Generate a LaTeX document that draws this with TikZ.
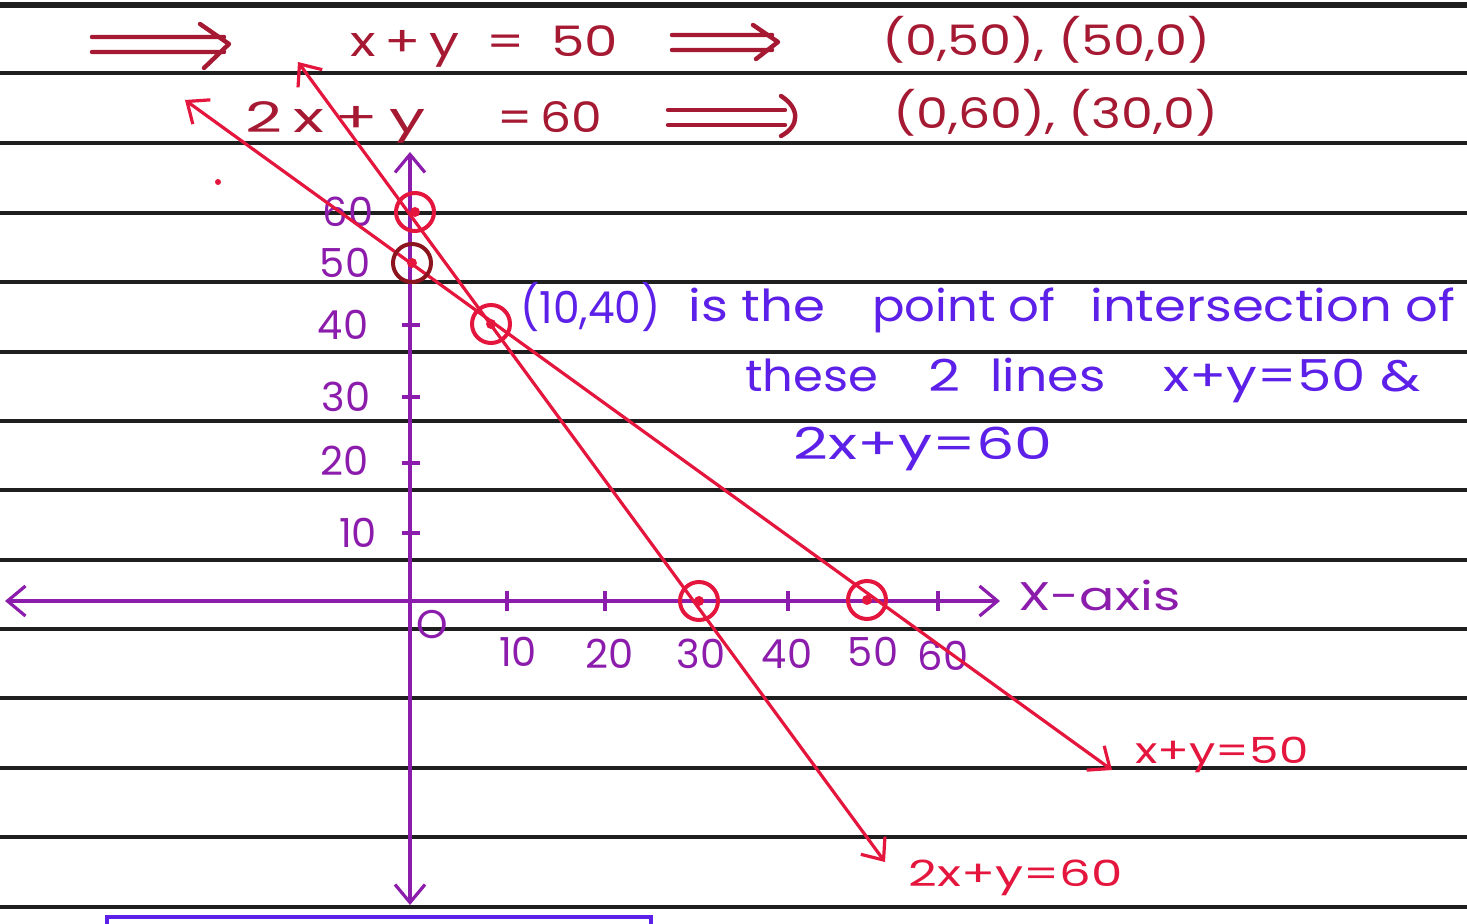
\documentclass[tikz,border=0pt]{standalone}
\usepackage{fontspec}
\usepackage{graphicx}
\setmainfont{Poppins}
\usetikzlibrary{arrows.meta}
\definecolor{inkred}{RGB}{165,25,50}
\definecolor{linered}{RGB}{228,22,62}
\definecolor{axispurple}{RGB}{140,28,172}
\definecolor{inkblue}{RGB}{92,32,232}
\definecolor{darkcirc}{RGB}{140,20,30}
\newcommand\fitw[2]{\resizebox{#1pt}{\height}{#2}}
\begin{document}
\begin{tikzpicture}[x=0.5pt,y=-0.5pt,
  rule/.style={line width=2pt,black!88},
  hand/.style={font=\fontsize{21}{24}\selectfont,inner sep=0pt,anchor=base west},
  redtext/.style={hand,text=inkred},
  bluetext/.style={hand,text=inkblue,font=\fontsize{22}{24}\selectfont},
  purpletext/.style={font=\fontsize{20}{24}\selectfont,inner sep=0pt,text=axispurple},
  labtext/.style={hand,text=linered,font=\fontsize{18}{22}\selectfont},
  axis/.style={line width=1.6pt,axispurple},
  tick/.style={line width=1.6pt,axispurple},
  graphline/.style={line width=1.6pt,linered},
  barb/.tip={Straight Barb[length=9pt,width=15pt,line width=1.6pt]},
  ptmark/.style={circle,draw=linered,line width=2pt,minimum size=19pt,inner sep=0pt},
  dbl/.style={line width=2.2pt,inkred,line cap=round,line join=round}]
\useasboundingbox (0,0) rectangle (1467,924);
% ruled lines
\foreach \yy in {73,143,213,282,352,421,490,560,629,698,768,837,907}
  \draw[rule] (0,\yy) -- (1467,\yy);
\draw[line width=3pt,black!88] (0,5) -- (1467,5);
% bottom box
\draw[line width=2pt,inkblue] (107,940) -- (107,917) -- (651,917) -- (651,940);
% header double arrows
\draw[dbl] (92,37) -- (224,37) (92,52) -- (224,52) (200,24) -- (229,44) -- (204,68);
\draw[dbl] (672,35) -- (772,35) (672,50) -- (772,50) (753,25) -- (778,42) -- (756,59);
\draw[dbl] (668,110) -- (785,110) (668,125) -- (785,125);
\draw[dbl] (781,96) .. controls (800,108) and (800,126) .. (781,136);
\node[redtext] (eq1) at (350,57) {\fitw{134}{x\,+\,y\enspace=\enspace50}};
\node[redtext] (pt1) at (882,56) {\fitw{164}{(0,50), (50,0)}};
\node[redtext] (eq2a) at (245,133) {\fitw{90}{2\,x\,+\,y}};
\node[redtext] (eq2b) at (497,133) {\fitw{52.5}{=\,60}};
\node[redtext] (pt2) at (893,129) {\fitw{162.5}{(0,60), (30,0)}};
% axes
\coordinate (xl) at (5,601); \coordinate (xr) at (1000,601);
\coordinate (yt) at (410,152); \coordinate (yb) at (410,905);
\draw[axis,barb-barb] (xl) -- (xr);
\draw[axis,barb-barb] (yb) -- (yt);
% ticks
\foreach \xx in {507,605,788,938}
  \draw[tick] (\xx,591) -- (\xx,611);
\foreach \yy in {325,397,463,533}
  \draw[tick] (402,\yy) -- (420,\yy);
\node[purpletext] (lo) at (432,625) {O};
\node[purpletext] (l10) at (518,652) {10};
\node[purpletext] (l20) at (610,654) {20};
\node[purpletext] (l30) at (701,654) {30};
\node[purpletext] (l40) at (787,654) {40};
\node[purpletext] (l50) at (873,652) {50};
\node[purpletext] (l60) at (943,656) {60};
\node[purpletext] (m60) at (348,212) {60};
\node[purpletext] (m50) at (345,263) {50};
\node[purpletext] (m40) at (343,325) {40};
\node[purpletext] (m30) at (346,397) {30};
\node[purpletext] (m20) at (345,461) {20};
\node[purpletext] (m10) at (358,533) {10};
\node[purpletext,anchor=base west] (xaxis) at (1018,611) {\fitw{81}{X-axis}};
% graph lines
\coordinate (a1) at (185,100); \coordinate (b1) at (1112,770);
\coordinate (a2) at (298,62); \coordinate (b2) at (885,862);
\draw[graphline,barb-barb] (a1) -- (b1);
\draw[graphline,barb-barb] (a2) -- (b2);
% marked points
\node[ptmark] (p60) at (415,212) {};
\node[ptmark,draw=darkcirc] (p50) at (412,263) {};
\node[ptmark] (pi) at (491,324) {};
\node[ptmark] (p30) at (699,601) {};
\node[ptmark] (p50x) at (867,600) {};
\foreach \p in {p60,p50,pi,p30,p50x} \fill[linered] (\p) circle (2.5pt);
\fill[linered] (218,182) circle (1.5pt);
% annotations
\node[bluetext] (n1a) at (520,324) {\fitw{70}{(10,40)}};
\node[bluetext] (n1b) at (688,322) {\fitw{68.5}{is the}};
\node[bluetext] (n1c) at (872,322) {\fitw{91.5}{point of}};
\node[bluetext] (n1d) at (1090,322) {\fitw{182.5}{intersection of}};
\node[bluetext] (n2a) at (745,392) {\fitw{66.5}{these}};
\node[bluetext] (n2b) at (928,392) {\fitw{16}{2}};
\node[bluetext] (n2c) at (990,392) {\fitw{57.5}{lines}};
\node[bluetext] (n2d) at (1163,392) {\fitw{128.5}{x+y=50 \&}};
\node[bluetext] (n3) at (793,460) {\fitw{129.5}{2x+y=60}};
\node[labtext] (lab1) at (1135,763) {\fitw{86.5}{x+y=50}};
\node[labtext] (lab2) at (908,886) {\fitw{107}{2x+y=60}};
\end{tikzpicture}
\end{document}
